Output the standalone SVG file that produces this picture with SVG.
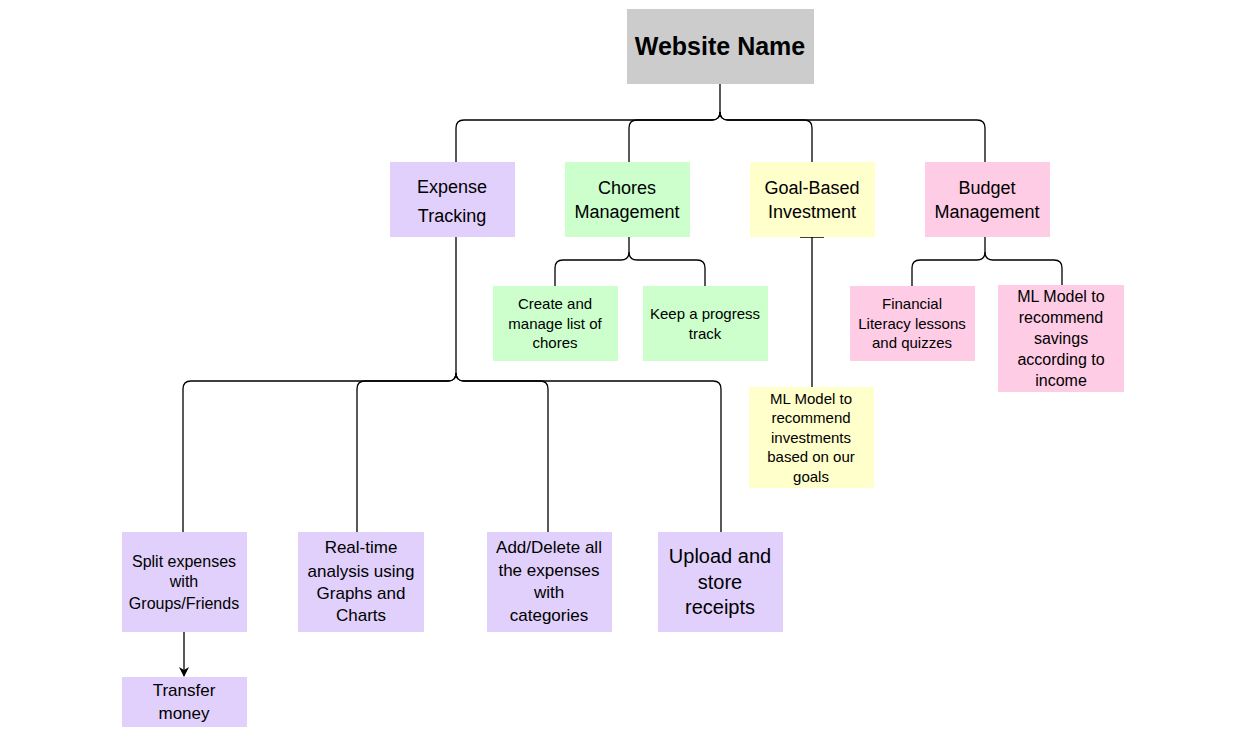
<svg xmlns="http://www.w3.org/2000/svg" width="1244" height="746" viewBox="0 0 1244 746">
<defs>
<style>
text{font-family:"Liberation Sans",Arial,sans-serif;fill:#000;text-anchor:middle;dominant-baseline:central}
.c{fill:none;stroke:#000;stroke-width:1.3}
.p{fill:#e1d0fb}.g{fill:#ccffcc}.y{fill:#ffffcc}.k{fill:#ffcce6}.gr{fill:#cccccc}
.t18{font-size:18px}.t15{font-size:15px}.t16{font-size:16px}.t17{font-size:17px}.t20{font-size:20px}
</style>
<marker id="arr" viewBox="0 0 10 10" refX="9" refY="5" markerWidth="10" markerHeight="10" markerUnits="userSpaceOnUse" orient="auto">
<path d="M0 0 L10 5 L0 10 L3 5 Z" fill="#000"/>
</marker>
</defs>
<rect width="1244" height="746" fill="#fff"/>
<g id="connectors">
<path class="c" d="M720 84 V112 Q720 120 712 120 H464 Q456 120 456 128 V162"/>
<path class="c" d="M720 112 Q720 120 712 120 H637 Q629 120 629 128 V162"/>
<path class="c" d="M720 112 Q720 120 728 120 H804 Q812 120 812 128 V162"/>
<path class="c" d="M720 112 Q720 120 728 120 H977 Q985 120 985 128 V162"/>
<path class="c" d="M629 237 V252 Q629 260 621 260 H563 Q555 260 555 268 V286"/>
<path class="c" d="M629 252 Q629 260 637 260 H697 Q705 260 705 268 V286"/>
<path class="c" d="M985 237 V252 Q985 260 977 260 H920 Q912 260 912 268 V286"/>
<path class="c" d="M985 252 Q985 260 993 260 H1054 Q1062 260 1062 268 V285"/>
<path class="c" d="M812 237 V388 M800 237 H824 M800 388 H824"/>
<path class="c" d="M456 237 V373 Q456 381 448 381 H191 Q183 381 183 389 V532"/>
<path class="c" d="M456 373 Q456 381 448 381 H365 Q357 381 357 389 V532"/>
<path class="c" d="M456 373 Q456 381 464 381 H540 Q548 381 548 389 V532"/>
<path class="c" d="M456 373 Q456 381 464 381 H713 Q721 381 721 389 V532"/>
<path class="c" d="M184 632 V676" marker-end="url(#arr)"/>
</g>
<g id="website"><rect class="gr" x="627" y="9" width="187" height="75"/><text x="720" y="46" font-size="25" font-weight="bold">Website Name</text></g>
<g id="expense"><rect class="p" x="390" y="162" width="125" height="75"/><text class="t18" x="452" y="187">Expense</text><text class="t18" x="452" y="216">Tracking</text></g>
<g id="chores"><rect class="g" x="565" y="162" width="125" height="75"/><text class="t18" x="627" y="188">Chores</text><text class="t18" x="627" y="212">Management</text></g>
<g id="goal"><rect class="y" x="750" y="162" width="125" height="75"/><text class="t18" x="812" y="188">Goal-Based</text><text class="t18" x="812" y="212">Investment</text></g>
<g id="budget"><rect class="k" x="925" y="162" width="125" height="75"/><text class="t18" x="987" y="188">Budget</text><text class="t18" x="987" y="212">Management</text></g>
<g id="create"><rect class="g" x="493" y="286" width="125" height="75"/><text class="t15" x="555" y="303">Create and</text><text class="t15" x="555" y="323">manage list of</text><text class="t15" x="555" y="342">chores</text></g>
<g id="progress"><rect class="g" x="643" y="286" width="125" height="75"/><text class="t15" x="705" y="313">Keep a progress</text><text class="t15" x="705" y="333">track</text></g>
<g id="literacy"><rect class="k" x="850" y="286" width="125" height="75"/><text class="t15" x="912" y="303">Financial</text><text class="t15" x="912" y="323">Literacy lessons</text><text class="t15" x="912" y="342">and quizzes</text></g>
<g id="savings"><rect class="k" x="998" y="285" width="126" height="107"/><text class="t16" x="1061" y="296">ML Model to</text><text class="t16" x="1061" y="317">recommend</text><text class="t16" x="1061" y="338">savings</text><text class="t16" x="1061" y="359">according to</text><text class="t16" x="1061" y="380">income</text></g>
<g id="invest"><rect class="y" x="749" y="387" width="125" height="101"/><text class="t15" x="811" y="398">ML Model to</text><text class="t15" x="811" y="417">recommend</text><text class="t15" x="811" y="437">investments</text><text class="t15" x="811" y="456">based on our</text><text class="t15" x="811" y="476">goals</text></g>
<g id="split"><rect class="p" x="122" y="532" width="125" height="100"/><text class="t16" x="184" y="561">Split expenses</text><text class="t16" x="184" y="581">with</text><text class="t16" x="184" y="603">Groups/Friends</text></g>
<g id="realtime"><rect class="p" x="298" y="532" width="126" height="100"/><text class="t17" x="361" y="547">Real-time</text><text class="t17" x="361" y="571">analysis using</text><text class="t17" x="361" y="593">Graphs and</text><text class="t17" x="361" y="615">Charts</text></g>
<g id="adddelete"><rect class="p" x="487" y="532" width="125" height="100"/><text class="t17" x="549" y="547">Add/Delete all</text><text class="t17" x="549" y="570">the expenses</text><text class="t17" x="549" y="592">with</text><text class="t17" x="549" y="615">categories</text></g>
<g id="upload"><rect class="p" x="658" y="532" width="125" height="100"/><text class="t20" x="720" y="556">Upload and</text><text class="t20" x="720" y="582">store</text><text class="t20" x="720" y="607">receipts</text></g>
<g id="transfer"><rect class="p" x="122" y="677" width="125" height="50"/><text class="t17" x="184" y="690">Transfer</text><text class="t17" x="184" y="713">money</text></g>
</svg>
